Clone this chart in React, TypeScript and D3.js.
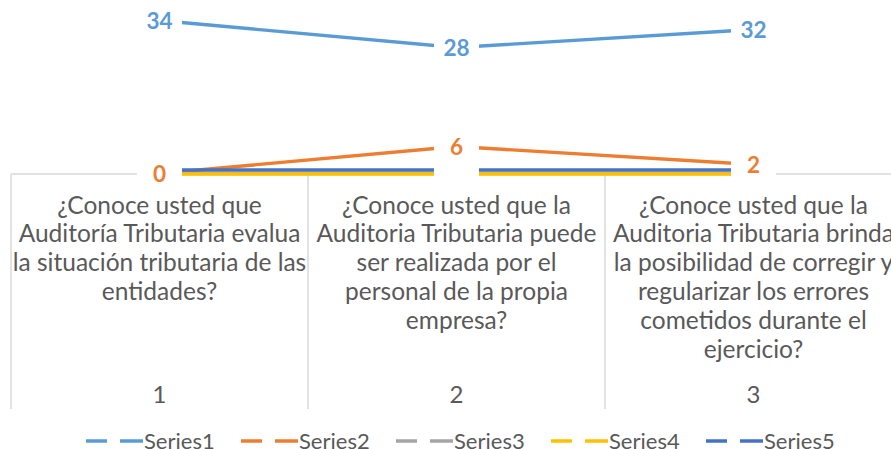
import React from "react";
import * as d3 from "d3";

const categories = ["1", "2", "3"];
const categoryLabels = [
  ["¿Conoce usted que", "Auditoría Tributaria evalua", "la situación tributaria de las", "entidades?"],
  ["¿Conoce usted que la", "Auditoria Tributaria puede", "ser realizada por el", "personal de la propia", "empresa?"],
  ["¿Conoce usted que la", "Auditoria Tributaria brinda", "la posibilidad de corregir y", "regularizar los errores", "cometidos durante el", "ejercicio?"],
];
const seriesNames = ["Series1", "Series2", "Series3", "Series4", "Series5"];
const series1 = [34, 28, 32];
const series2 = [0, 6, 2];
const series3 = [0, 0, 0];
const series4 = [0, 0, 0];
const series5 = [0, 0, 0];
const seriesValues = [series1, series2, series3, series4, series5];
const showLabels = [true, true, false, false, false];

const colors = ["#5B9BD5", "#ED7D31", "#A5A5A5", "#FFC000", "#4472C4"];
const lineOffsets = [0, 0, 0, 0.5, -3.5];

const W = 891;
const H = 449;
const FONT = "Lato, 'Open Sans', sans-serif";
const TEXT = "#595959";
const AXIS = "#D9D9D9";

export default function App() {
  const x = d3.scaleBand<string>().domain(categories).range([11, 902]).padding(0);
  const y = d3.scaleLinear().domain([0, 38]).range([173.5, 2.5]);
  const cx = (i: number) => (x(categories[i]) as number) + x.bandwidth() / 2;
  const line = d3
    .line<number>()
    .x((_, i) => cx(i))
    .y((d) => y(d));
  const axisY = 174;
  const axisBottom = 409;
  const boxW = 45;
  const boxH = 22;

  const drawOrder = [2, 3, 4, 0, 1];

  return (
    <svg
      width={W}
      height={H}
      style={{ position: "absolute", left: 0, top: 0, background: "#fff" }}
      fontFamily={FONT}
    >
      <rect x={0} y={0} width={W} height={H} fill="#fff" />
      {/* category axis */}
      <line x1={x.range()[0]} x2={x.range()[1]} y1={axisY} y2={axisY} stroke={AXIS} strokeWidth={1.5} />
      {categories.map((c) => (
        <line
          key={"t" + c}
          x1={x(c) as number}
          x2={x(c) as number}
          y1={axisY}
          y2={axisBottom}
          stroke={AXIS}
          strokeWidth={1.5}
        />
      ))}
      {categoryLabels.map((lines, i) => (
        <text key={"cl" + i} x={cx(i)} textAnchor="middle" fill={TEXT} fontSize={24.5}>
          {lines.map((l, j) => (
            <tspan key={j} x={cx(i)} y={213.5 + j * 28.8}>
              {l}
            </tspan>
          ))}
        </text>
      ))}
      {categories.map((c, i) => (
        <text key={"n" + c} x={cx(i)} y={402.5} textAnchor="middle" fill={TEXT} fontSize={24}>
          {c}
        </text>
      ))}
      {/* lines */}
      {seriesValues.map((vals, s) => (
        <path
          key={"l" + s}
          d={line(vals) || ""}
          fill="none"
          stroke={colors[s]}
          strokeWidth={3.3}
          transform={`translate(0,${lineOffsets[s]})`}
        />
      ))}
      {/* data labels */}
      {drawOrder.map((s) => (
        <g key={"lab" + s}>
          {seriesValues[s].map((v, i) => (
            <g key={i}>
              <rect x={cx(i) - boxW / 2} y={y(v) - boxH / 2} width={boxW} height={boxH} fill="#fff" />
              {showLabels[s] && (
                <text
                  x={cx(i)}
                  y={y(v)}
                  dy="0.36em"
                  textAnchor="middle"
                  fill={colors[s]}
                  fontSize={22.5}
                  fontWeight="bold"
                >
                  {v}
                </text>
              )}
            </g>
          ))}
        </g>
      ))}
      {/* legend */}
      {seriesNames.map((n, i) => {
        const x0 = 86 + i * 155;
        const ly = 441;
        return (
          <g key={"lg" + n}>
            <line x1={x0} x2={x0 + 21} y1={ly} y2={ly} stroke={colors[i]} strokeWidth={3.5} />
            <line x1={x0 + 34} x2={x0 + 57} y1={ly} y2={ly} stroke={colors[i]} strokeWidth={3.5} />
            <text x={x0 + 58} y={ly} dy="0.35em" fill={TEXT} fontSize={22}>
              {n}
            </text>
          </g>
        );
      })}
    </svg>
  );
}
